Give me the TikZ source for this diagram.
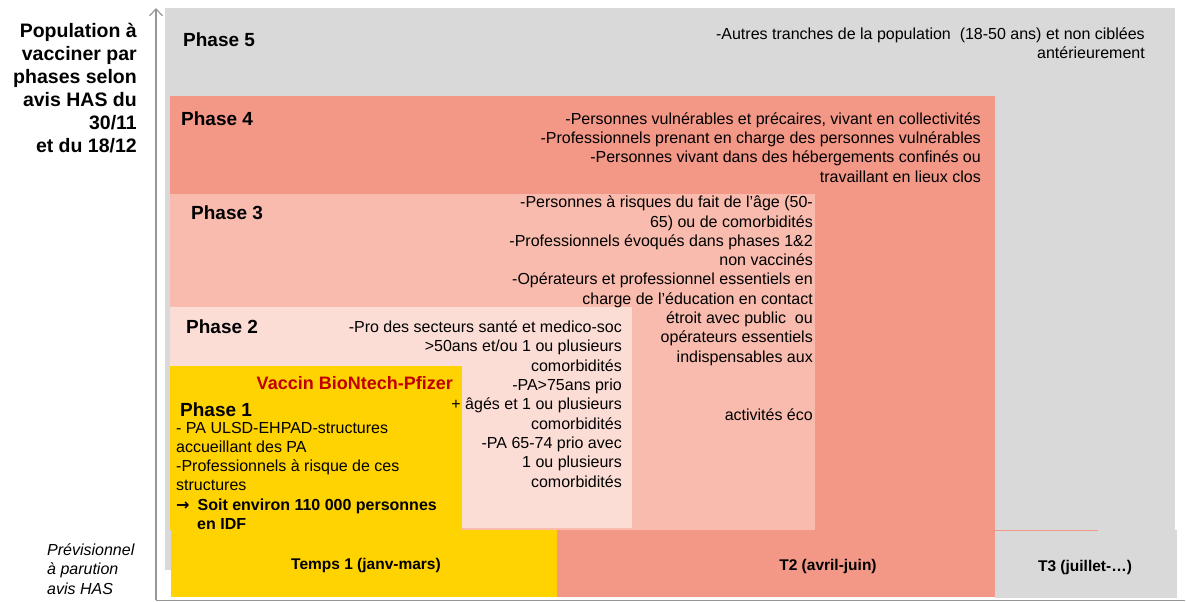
\documentclass[tikz,border=0pt]{standalone}
\usepackage{fontspec}
\setmainfont{Liberation Sans}
\newfontfamily\flechefont{DejaVu Sans}
\usetikzlibrary{calc, arrows.meta}

\definecolor{grisph}{RGB}{217,217,217}
\definecolor{saumon}{RGB}{243,151,135}
\definecolor{saumonclair}{RGB}{248,187,174}
\definecolor{rosepale}{RGB}{251,221,214}
\definecolor{jaune}{RGB}{255,211,0}
\definecolor{rougevac}{RGB}{192,0,0}
\definecolor{axe}{RGB}{150,150,150}

\begin{document}
\begin{tikzpicture}[x=1pt, y=-1pt]

        % Styles for the labels and the lists of each phase
        % (a list node sits on the baseline of its last line)
        \tikzset{
            phase/.style={inner sep=0, anchor=base west,
                font=\bfseries\fontsize{19}{23}\selectfont},
            liste/.style={inner sep=0, anchor=base east, align=right,
                font=\fontsize{16}{19.3}\selectfont},
            periode/.style={inner sep=0, anchor=base,
                font=\bfseries\fontsize{15.5}{19}\selectfont}
        }

        \useasboundingbox (0,0) rectangle (1187,602);

        % Corners of the phase blocks, top left then bottom right
        \coordinate (P5a) at (165, 8);   \coordinate (P5b) at (1175, 570);
        \coordinate (P4a) at (170, 96);  \coordinate (P4b) at (995, 530);
        \coordinate (P3a) at (170, 194); \coordinate (P3b) at (815, 530);
        \coordinate (P2a) at (170, 307); \coordinate (P2b) at (632, 528);
        \coordinate (P1a) at (170, 366); \coordinate (P1b) at (462, 530);

        % Corners of the time bar at the bottom
        \coordinate (T1a) at (171, 530); \coordinate (T1b) at (557, 597);
        \coordinate (T2a) at (557, 530); \coordinate (T2b) at (995, 597);
        \coordinate (T3a) at (995, 530); \coordinate (T3b) at (1177, 598);

        % Blocks, from the last phase to the first one
        \begin{scope}
            \fill[grisph] (P5a) rectangle (P5b);
            \fill[saumon] (P4a) rectangle (P4b);
            \fill[saumonclair] (P3a) rectangle (P3b);
            \fill[rosepale] (P2a) rectangle (P2b);
            \fill[jaune] (P1a) rectangle (P1b);

            \fill[jaune] (T1a) rectangle (T1b);
            \fill[saumon] (T2a) rectangle (T2b);
            \fill[grisph] (T3a) rectangle (T3b);
            \draw[saumon, line width=1] (T3a) -- ++(103, 0);
        \end{scope}

        % Axes
        \coordinate (O) at (156, 600);
        \coordinate (Oy) at (156, 8);
        \coordinate (Ox) at (1185, 600);
        \begin{scope}[axe, line width=1.2]
            \draw[-{Straight Barb[length=7pt, width=13pt]}] (O) -- (Oy);
            \draw[line width=0.8] (O) -- (Ox);
        \end{scope}

        % Titles on the left
        \node (titre) at (137, 152)[inner sep=0, anchor=base east, align=right,
            font=\bfseries\fontsize{19.5}{23}\selectfont]
            {Population à\\vacciner par\\phases selon\\avis HAS du\\30/11\\et du 18/12};
        \node (prev) at (47, 594)[inner sep=0, anchor=base west, align=left,
            font=\itshape\fontsize{16}{19.5}\selectfont]
            {Prévisionnel\\à parution\\avis HAS};

        % Phase labels
        \node (ph5) at (183, 47)[phase] {Phase 5};
        \node (ph4) at (181, 125)[phase] {Phase 4};
        \node (ph3) at (191, 219)[phase] {Phase 3};
        \node (ph2) at (186, 333)[phase] {Phase 2};
        \node (ph1) at (180, 416)[phase] {Phase 1};

        % Lists of each phase
        \node (l5) at (1145, 59)[liste]
            {-Autres tranches de la population \ (18-50 ans) et non ciblées\\
            antérieurement};
        \node (l4) at (981, 182)[liste]
            {-Personnes vulnérables et précaires, vivant en collectivités\\
            -Professionnels prenant en charge des personnes vulnérables\\
            -Personnes vivant dans des hébergements confinés ou\\
            travaillant en lieux clos};
        \node (l3) at (813, 420)[liste]
            {-Personnes à risques du fait de l’âge (50-\\
            65) ou de comorbidités\\
            -Professionnels évoqués dans phases 1\&2\\
            non vaccinés\\
            -Opérateurs et professionnel essentiels en\\
            charge de l’éducation en contact\\
            étroit avec public \ ou\\
            opérateurs essentiels\\
            indispensables aux\\[38.6pt]
            activités éco};
        \node (l2) at (622, 487)[liste]
            {-Pro des secteurs santé et medico-soc\\
            >50ans et/ou 1 ou plusieurs\\
            comorbidités\\
            -PA>75ans prio\\
            + âgés et 1 ou plusieurs\\
            comorbidités\\
            -PA 65-74 prio avec\\
            1 ou plusieurs\\
            comorbidités};

        \node (vaccin) at (453, 389)[inner sep=0, anchor=base east, text=rougevac,
            font=\bfseries\fontsize{18}{22}\selectfont] {Vaccin BioNtech-Pfizer};
        \node (l1) at (176, 529.5)[liste, anchor=base west, align=left]
            {- PA ULSD-EHPAD-structures\\
            accueillant des PA\\
            -Professionnels à risque de ces\\
            structures\\
            \textbf{{\flechefont →}\hspace{8pt}Soit environ 110 000 personnes}\\
            \hspace*{21pt}\textbf{en IDF}};

        % Periods
        \node (temps1) at (366, 569)[periode] {Temps 1 (janv-mars)};
        \node (temps2) at (828, 570)[periode] {T2 (avril-juin)};
        \node (temps3) at (1085, 571)[periode] {T3 (juillet-…)};

        \end{tikzpicture}
\end{document}
